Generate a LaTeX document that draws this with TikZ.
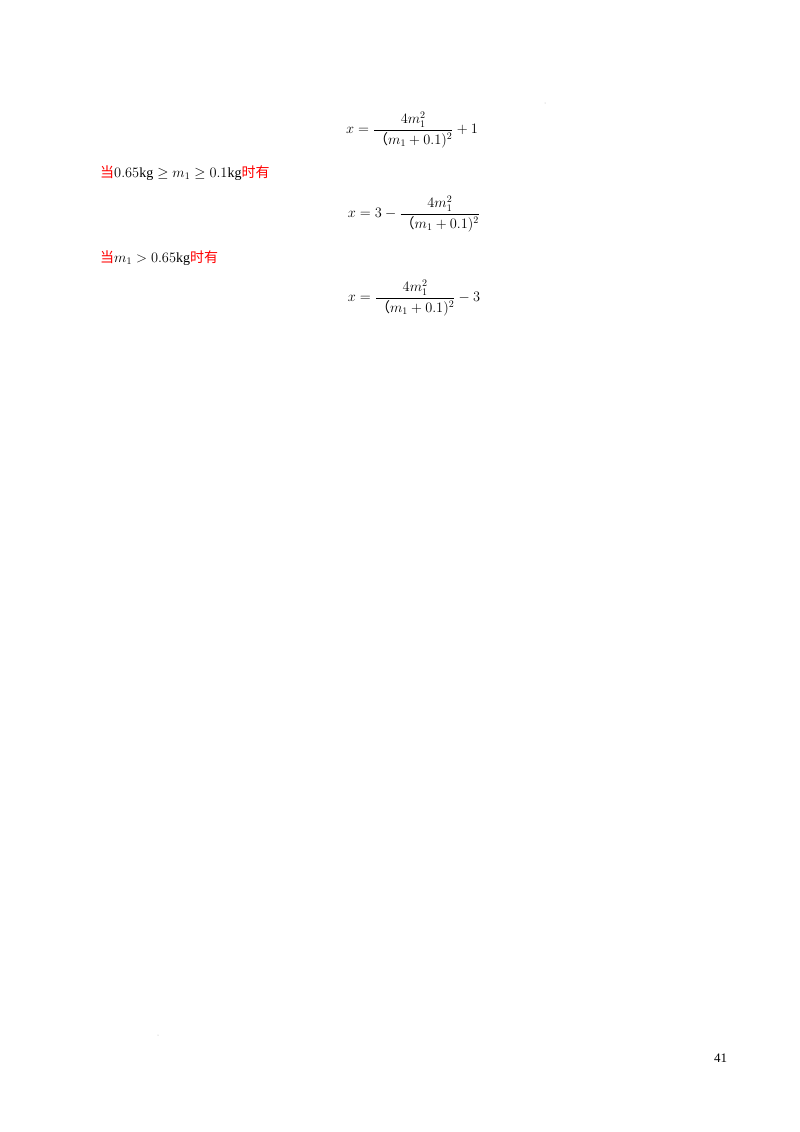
\documentclass[tikz,border=0pt]{standalone}
\usepackage{amsmath}
\usepackage{fontspec}
\setmainfont{Liberation Serif}
\newfontfamily\cjk{Noto Sans CJK SC}
\begin{document}
\begin{tikzpicture}[x=1pt,y=-1pt,
  eq/.style={anchor=center,inner sep=0pt,font=\fontsize{14}{16}\selectfont},
  txt/.style={anchor=west,inner sep=0pt,font=\fontsize{14}{16}\selectfont}]
\useasboundingbox[fill=white] (0,0) rectangle (800,1132);
\node[eq] (e1) at (412,130) {$x=\dfrac{4m_1^2}{\text{\cjk（}m_1+0.1)^2}+1$};
\node[txt] (t1) at (100,173) {{\cjk\color{red}\fontsize{14}{16}\selectfont 当}$0.65\mathrm{kg}\ge m_1\ge 0.1\mathrm{kg}${\cjk\color{red}\fontsize{14}{16}\selectfont 时有}};
\node[eq] (e2) at (414,214) {$x=3-\dfrac{4m_1^2}{\text{\cjk（}m_1+0.1)^2}$};
\node[txt] (t2) at (100,258) {{\cjk\color{red}\fontsize{14}{16}\selectfont 当}$m_1>0.65\mathrm{kg}${\cjk\color{red}\fontsize{14}{16}\selectfont 时有}};
\node[eq] (e3) at (414,298) {$x=\dfrac{4m_1^2}{\text{\cjk（}m_1+0.1)^2}-3$};
\node[txt,font=\fontsize{13}{15}\selectfont] (pg) at (714,1058) {41};
\fill[gray!60] (545,103) circle (0.5);
\fill[gray!60] (158,1035) circle (0.5);
\end{tikzpicture}
\end{document}
